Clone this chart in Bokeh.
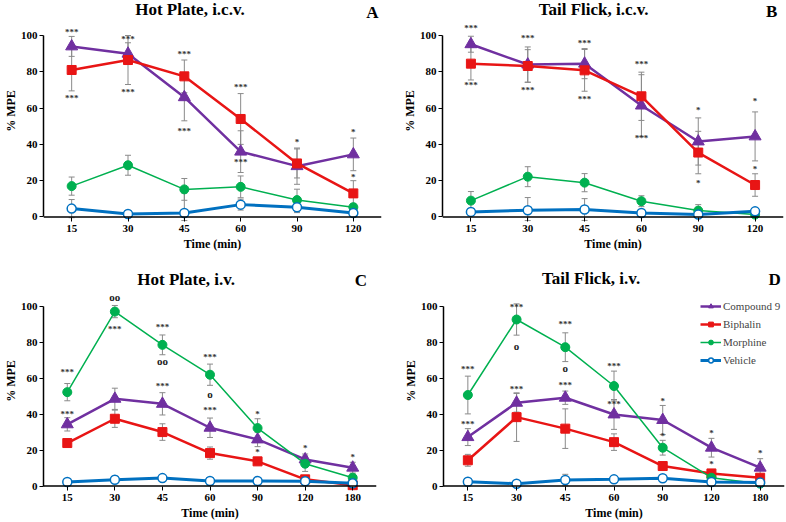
from bokeh.plotting import figure
from bokeh.models import (ColumnDataSource, Range1d, FixedTicker, Whisker, TeeHead,
                          Span, Legend, LegendItem)
from bokeh.layouts import column, row
from bokeh.core.properties import value
from bokeh.embed import file_html
from bokeh.resources import INLINE

# ---------------- data ----------------
times_icv = ["15", "30", "45", "60", "90", "120"]
times_iv = ["15", "30", "45", "60", "90", "120", "180"]
series_names = ["Compound 9", "Biphalin", "Morphine", "Vehicle"]

# Panel A: Hot Plate, i.c.v.
A_comp9 = [94, 90, 66, 36, 28, 34.5]
A_comp9_err = [5.5, 6, 13, 11.5, 10, 9]
A_biph = [81, 86.5, 77.5, 54, 29.5, 13]
A_biph_err = [11.5, 13.5, 9, 14, 8, 7]
A_morph = [17, 28.5, 15.2, 16.6, 9.3, 5.4]
A_morph_err = [5, 5.5, 6, 6, 6, 2]
A_veh = [4.6, 1.6, 2.2, 6.8, 5.4, 2.2]
A_veh_err = [5, 2, 11, 3, 3, 1.5]

# Panel B: Tail Flick, i.c.v.
B_comp9 = [95.2, 84, 84.5, 61.4, 41.6, 44.4]
B_comp9_err = [4.4, 9.7, 8.3, 17, 13, 13.5]
B_biph = [84.5, 83.2, 80.8, 66.5, 35.5, 17.6]
B_biph_err = [9, 9, 11.5, 13.3, 11.7, 6.2]
B_morph = [9, 22.2, 18.9, 8.7, 3.5, 1.3]
B_morph_err = [5, 5.5, 5, 3, 3.3, 1]
B_veh = [2.8, 3.7, 4.1, 2.2, 1.3, 3.1]
B_veh_err = [2, 7, 6, 2, 1, 1]

# Panel C: Hot Plate, i.v.
C_comp9 = [34.3, 48.5, 45.7, 32.4, 25.9, 14.8, 10.2]
C_comp9_err = [3.7, 5.9, 6.2, 5.4, 4, 3, 3]
C_biph = [23.9, 37.4, 30, 18.3, 13.7, 3.7, 0.4]
C_biph_err = [2, 4.8, 4.6, 3.4, 2, 1, 0.5]
C_morph = [52.2, 97, 78.5, 61.9, 32.2, 12.4, 4.6]
C_morph_err = [4.8, 3.4, 5.5, 5.9, 5.2, 4.3, 2]
C_veh = [2.2, 3.5, 4.4, 2.8, 2.8, 2.6, 1.5]
C_veh_err = [1, 2, 1.5, 1, 1, 1, 1]

# Panel D: Tail Flick, i.v.
D_comp9 = [27.2, 46.3, 49.1, 39.8, 36.7, 21.3, 10.2]
D_comp9_err = [4.7, 5.2, 3.7, 8.3, 8.1, 5.2, 5]
D_biph = [14.3, 38.3, 31.9, 24.4, 11.1, 7, 4.6]
D_biph_err = [3.3, 13.5, 11, 4.6, 2, 1.5, 1]
D_morph = [50.6, 92.6, 77.2, 55.6, 21.3, 4.6, 1.3]
D_morph_err = [10.5, 8.7, 8, 8.3, 4.1, 2, 1]
D_veh = [2.4, 1.3, 3.3, 3.7, 4.3, 2.2, 1.9]
D_veh_err = [1, 1, 3.2, 1, 1.5, 1, 1]

# significance marks
A_mark_x = ["15", "15", "30", "30", "45", "45", "60", "60", "90", "120", "120"]
A_mark_y = [102.6, 66.5, 98.9, 69.7, 90.4, 48.4, 72.5, 31.2, 42, 47.9, 23.1]
A_mark_t = ["***", "***", "***", "***", "***", "***", "***", "***", "*", "*", "*"]

B_mark_x = ["15", "15", "30", "30", "45", "45", "60", "60", "90", "90", "120", "120"]
B_mark_y = [104.8, 73.4, 99.3, 70.6, 96.9, 65.6, 85.4, 44.2, 60, 19.8, 65, 27.2]
B_mark_t = ["***", "***", "***", "***", "***", "***", "***", "***", "*", "*", "*", "*"]

C_mark_x = ["15", "15", "30", "30", "45", "45", "45", "60", "60", "60", "90", "90", "120", "180"]
C_mark_y = [64.3, 41.1, 105, 88, 89.3, 69.8, 56.3, 72.6, 51.3, 43, 40.7, 19.8, 21.7, 17]
C_mark_t = ["***", "***", "oo", "***", "***", "oo", "***", "***", "o", "***", "*", "*", "*", "*"]

D_mark_x = ["15", "15", "30", "30", "30", "45", "45", "45", "60", "60", "90", "90", "120", "120", "180"]
D_mark_y = [66.1, 35.2, 100.6, 78.1, 55, 90.7, 65.7, 56.9, 67.6, 46.3, 48.1, 28.7, 30.2, 12.8, 19.1]
D_mark_t = ["***", "***", "***", "o", "***", "***", "o", "***", "***", "***", "*", "*", "*", "*", "*"]

titles = ["Hot Plate, i.c.v.", "Tail Flick, i.c.v.", "Hot Plate, i.v.", "Tail Flick, i.v."]
letters = ["A", "B", "C", "D"]

# ---------------- style ----------------
SERIF = "Liberation Serif"
COLORS = ["#7030A0", "#E81515", "#00B050", "#0070C0"]
ERR_COLOR = "#8a8a8a"
Y_TOP = 119.3


def make_panel(cats, series, errs, mk_x, mk_y, mk_t, title, letter,
               borders, title_pos, letter_pos, with_legend=False):
    left, right, top, bottom = borders
    p = figure(width=393, height=261, x_range=cats, y_range=Range1d(-2.5, Y_TOP),
               output_backend="svg", toolbar_location=None,
               min_border_left=left, min_border_right=right,
               min_border_top=top, min_border_bottom=bottom)
    p.outline_line_color = None
    p.xgrid.grid_line_color = None
    p.ygrid.grid_line_color = None
    p.background_fill_color = "white"

    # y axis
    p.yaxis.ticker = FixedTicker(ticks=[0, 20, 40, 60, 80, 100])
    p.yaxis.bounds = (0, 100)
    p.yaxis.axis_line_width = 1.5
    p.yaxis.axis_line_color = "black"
    p.yaxis.major_tick_out = 4
    p.yaxis.major_tick_in = 0
    p.yaxis.minor_tick_line_color = None
    p.yaxis.major_label_standoff = 2
    p.yaxis.axis_label = "% MPE"
    p.yaxis.axis_label_standoff = 0

    # x axis (line drawn at y=0 with a span)
    p.xaxis.axis_line_color = None
    p.xaxis.major_tick_in = 4
    p.xaxis.major_tick_out = 0
    p.xaxis.major_tick_line_color = "black"
    p.xaxis.major_label_standoff = 3
    p.xaxis.axis_label = "Time (min)"
    p.xaxis.axis_label_standoff = 2
    p.add_layout(Span(location=0, dimension="width", line_color="black", line_width=1.5))

    for ax in (p.xaxis, p.yaxis):
        ax.major_label_text_font = SERIF
        ax.major_label_text_font_style = "bold"
        ax.major_label_text_font_size = "11px"
        ax.major_label_text_color = "black"
        ax.axis_label_text_font = SERIF
        ax.axis_label_text_font_style = "bold"
        ax.axis_label_text_font_size = "12px"
        ax.axis_label_text_color = "black"

    # error bars
    for vals, err in zip(series, errs):
        src = ColumnDataSource(dict(x=cats, upper=[v + e for v, e in zip(vals, err)],
                                    lower=[max(v - e, -2) for v, e in zip(vals, err)]))
        w = Whisker(base="x", upper="upper", lower="lower", source=src,
                    line_color=ERR_COLOR, line_width=1,
                    upper_head=TeeHead(size=6, line_color=ERR_COLOR, line_width=1),
                    lower_head=TeeHead(size=6, line_color=ERR_COLOR, line_width=1))
        p.add_layout(w)

    items = []
    specs = [
        dict(marker="triangle", size=12, lw=2.5, fill=COLORS[0]),
        dict(marker="square", size=9, lw=2.5, fill=COLORS[1]),
        dict(marker="circle", size=9, lw=1.5, fill=COLORS[2]),
        dict(marker="circle", size=9, lw=3, fill="white"),
    ]
    for i, (vals, spec) in enumerate(zip(series, specs)):
        src = ColumnDataSource(dict(x=cats, y=vals))
        ln = p.line("x", "y", source=src, line_color=COLORS[i], line_width=spec["lw"])
        sc = p.scatter("x", "y", source=src, marker=spec["marker"], size=spec["size"],
                       fill_color=spec["fill"], line_color=COLORS[i],
                       line_width=1.5 if i == 3 else 1)
        items.append(LegendItem(label=series_names[i], renderers=[ln, sc]))

    # asterisks (p < 0.05 ...) and circles (vs. other treatment)
    star_idx = [k for k, t in enumerate(mk_t) if "*" in t]
    circ_idx = [k for k, t in enumerate(mk_t) if "o" in t]
    for idx, fsize, yoff, col in ((star_idx, "9px", 1.5, "#333333"),
                                   (circ_idx, "11px", 0, "#222222")):
        if not idx:
            continue
        msrc = ColumnDataSource(dict(x=[mk_x[k] for k in idx], y=[mk_y[k] for k in idx],
                                     t=[mk_t[k] for k in idx]))
        p.text("x", "y", text="t", source=msrc, text_font=value(SERIF),
               text_font_style="bold", text_font_size=fsize, text_align="center",
               text_baseline="middle", text_color=col, y_offset=yoff)

    tsrc = ColumnDataSource(dict(x=[title_pos[0], letter_pos[0]],
                                 y=[title_pos[1], letter_pos[1]],
                                 t=[title, letter]))
    p.text("x", "y", text="t", source=tsrc, text_font=value(SERIF), text_font_style="bold",
           text_font_size="17px", text_align="center", text_baseline="middle",
           text_color="black")

    if with_legend:
        lg = Legend(items=items, location=(257, 124), label_text_font=SERIF,
                    label_text_font_size="11px", glyph_width=21, glyph_height=12,
                    label_height=13, spacing=5, label_standoff=2, padding=2, margin=0,
                    background_fill_alpha=0, border_line_color=None)
        p.add_layout(lg)
    return p


pA = make_panel(times_icv, [A_comp9, A_biph, A_morph, A_veh],
                [A_comp9_err, A_biph_err, A_morph_err, A_veh_err],
                A_mark_x, A_mark_y, A_mark_t, titles[0], letters[0],
                (39, 12, 0, 40), (2.6, 114.2), (5.84, 112.7))
pB = make_panel(times_icv, [B_comp9, B_biph, B_morph, B_veh],
                [B_comp9_err, B_biph_err, B_morph_err, B_veh_err],
                B_mark_x, B_mark_y, B_mark_t, titles[1], letters[1],
                (49, 3, 0, 40), (2.66, 114.2), (5.79, 113.5))
pC = make_panel(times_iv, [C_comp9, C_biph, C_morph, C_veh],
                [C_comp9_err, C_biph_err, C_morph_err, C_veh_err],
                C_mark_x, C_mark_y, C_mark_t, titles[2], letters[2],
                (40, 17, 9, 32), (3.0, 115), (6.67, 114.4))
pD = make_panel(times_iv, [D_comp9, D_biph, D_morph, D_veh],
                [D_comp9_err, D_biph_err, D_morph_err, D_veh_err],
                D_mark_x, D_mark_y, D_mark_t, titles[3], letters[3],
                (50, 2, 10, 31), (3.03, 115.5), (6.8, 115), with_legend=True)

layout = column(row(pA, pB), row(pC, pD))
open("out.html", "w").write(file_html(layout, INLINE))
